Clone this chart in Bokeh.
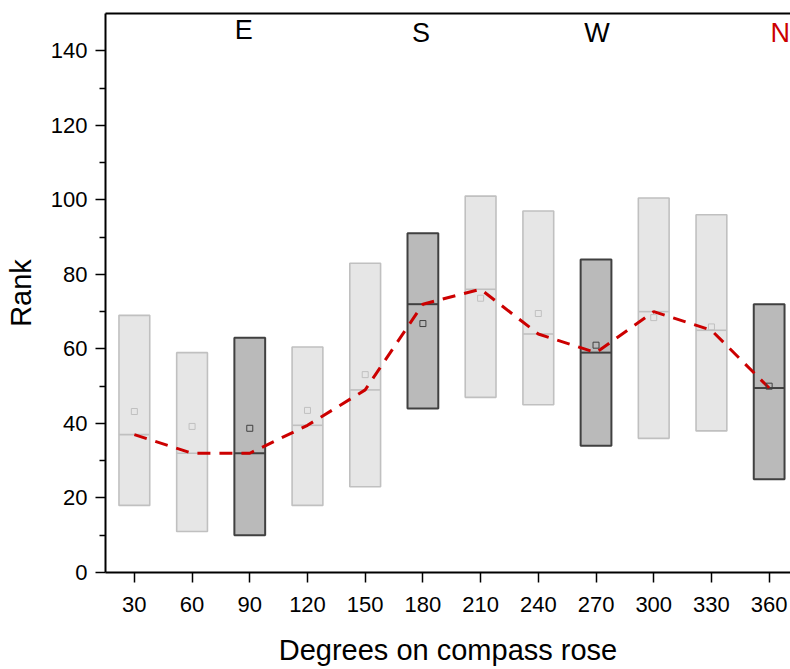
from bokeh.plotting import figure
from bokeh.models import ColumnDataSource, FixedTicker, LinearAxis, Range1d
from bokeh.core.properties import value
from bokeh.embed import file_html
from bokeh.resources import INLINE

# ---- data ----
degrees = [30, 60, 90, 120, 150, 180, 210, 240, 270, 300, 330, 360]
box_top = [69, 59, 63, 60.5, 83, 91, 101, 97, 84, 100.5, 96, 72]
box_bottom = [18, 11, 10, 18, 23, 44, 47, 45, 34, 36, 38, 25]
medians = [37, 32, 32, 39.5, 49, 72, 76, 64, 59, 70, 65, 49.5]
means = [43.2, 39.2, 38.7, 43.5, 53.1, 66.8, 73.6, 69.5, 61, 68.4, 65.9, 50]
cardinal = [False, False, True, False, False, True, False, False, True, False, False, True]
compass_labels = ["E", "S", "W", "N"]
compass_deg = [90, 180, 270, 360]
x_ticks = degrees
y_ticks = [0, 20, 40, 60, 80, 100, 120, 140]

BOX_W = 16
FONT = "Liberation Sans"
RED = "#cc0000"

fill = ["#bababa" if c else "#e6e6e6" for c in cardinal]
edge = ["#404040" if c else "#c0c0c0" for c in cardinal]
edge_w = [2 if c else 1.6 for c in cardinal]

src = ColumnDataSource(dict(
    x=degrees, top=box_top, bottom=box_bottom, med=medians, mean=means,
    x0=[d - BOX_W / 2 for d in degrees], x1=[d + BOX_W / 2 for d in degrees],
    fill=fill, edge=edge, lw=edge_w,
))

p = figure(width=790, height=669, output_backend="svg", toolbar_location=None,
           x_range=Range1d(15, 371.1), y_range=Range1d(0, 150),
           min_border_left=105, min_border_right=0, min_border_top=13,
           min_border_bottom=97, frame_width=685, frame_height=559)
p.outline_line_color = None
p.grid.visible = False
p.background_fill_color = "white"

p.vbar(x="x", width=BOX_W, top="top", bottom="bottom", source=src,
       fill_color="fill", line_color="edge", line_width="lw")
p.segment(x0="x0", x1="x1", y0="med", y1="med", source=src,
          line_color="edge", line_width="lw")
p.line(degrees, medians, line_color=RED, line_width=3, line_dash="13 9")
p.scatter(x="x", y="mean", source=src, marker="square", size=6,
          fill_color=None, line_color="edge", line_width=1)

p.text(x=compass_deg, y=[142] * len(compass_deg), text=compass_labels,
       text_color=["black", "black", "black", RED],
       x_offset=[-6, -2, 1, 11], y_offset=[-13, -10, -10, -10],
       text_align="center", text_baseline="alphabetic",
       text_font=value(FONT), text_font_size="27px")

# axes
xa = p.xaxis[0]
xa.ticker = FixedTicker(ticks=x_ticks)
xa.axis_label = "Degrees on compass rose"
ya = p.yaxis[0]
ya.ticker = FixedTicker(ticks=y_ticks, minor_ticks=[10, 30, 50, 70, 90, 110, 130])
ya.axis_label = "Rank"

for ax in (xa, ya):
    ax.axis_line_width = 2
    ax.axis_line_color = "black"
    ax.major_tick_line_width = 1.5
    ax.minor_tick_line_width = 1.5
    ax.major_tick_in = 0
    ax.major_tick_out = 10
    ax.minor_tick_in = 0
    ax.major_label_text_font = FONT
    ax.major_label_text_font_size = "22px"
    ax.major_label_text_color = "black"
    ax.axis_label_text_font = FONT
    ax.axis_label_text_font_size = "29px"
    ax.axis_label_text_font_style = "normal"
    ax.axis_label_text_color = "black"

xa.minor_tick_out = 0
xa.major_label_standoff = 14
xa.axis_label_standoff = 19
ya.minor_tick_out = 6
ya.major_label_standoff = 8
ya.axis_label_standoff = 11

top_ax = LinearAxis(ticker=FixedTicker(ticks=[]), axis_line_width=2,
                    axis_line_color="black", major_tick_out=0, minor_tick_out=0)
p.add_layout(top_ax, "above")

open("out.html", "w").write(file_html(p, INLINE))
